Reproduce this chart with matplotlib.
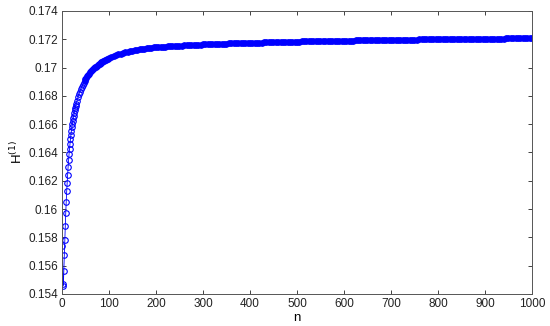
import numpy as np
import matplotlib
matplotlib.use('Agg')
from matplotlib import pyplot as plt

plt.rcParams['font.family'] = ['Liberation Sans', 'DejaVu Sans']

# steep part: every n up to 30, then every 2 up to 100
n_steep = np.concatenate([np.arange(1, 31), np.arange(32, 101, 2)])
# flat part: every 5 from 105 to 1000
n_flat = np.arange(105, 1001, 5)

h_early = [0.15740, 0.15457, 0.15469, 0.15565, 0.15676, 0.15782, 0.15881, 0.15975,
           0.16052, 0.16126, 0.16187, 0.16243, 0.16298, 0.16345, 0.16387, 0.16425,
           0.16462, 0.16495, 0.16526, 0.16553, 0.16578, 0.16600, 0.16622, 0.16642,
           0.16661, 0.16680, 0.16697, 0.16713, 0.16728, 0.16742]
h_100 = [0.16767, 0.16790, 0.16811, 0.16830, 0.16847, 0.16863, 0.16878, 0.16892,
         0.16905, 0.16917, 0.16928, 0.16939, 0.16949, 0.16958, 0.16966, 0.16974,
         0.16982, 0.16989, 0.16995, 0.17001, 0.17007, 0.17013, 0.17018, 0.17023,
         0.17028, 0.17033, 0.17037, 0.17041, 0.17045, 0.17049, 0.17053, 0.17056,
         0.17060, 0.17063, 0.17066]
h_200 = [0.17074, 0.17081, 0.17087, 0.17093, 0.17098, 0.17103, 0.17107, 0.17111,
         0.17115, 0.17119, 0.17122, 0.17125, 0.17128, 0.17131, 0.17134, 0.17136,
         0.17138, 0.17140, 0.17142, 0.17144]
h_250 = [0.17146, 0.17147, 0.17148, 0.17149, 0.17150, 0.17151, 0.17152, 0.17153,
         0.17154, 0.17155]
h_350 = [0.17156, 0.17157, 0.17158, 0.17159, 0.17160, 0.17161, 0.17161, 0.17162,
         0.17163, 0.17164, 0.17164, 0.17165, 0.17166, 0.17166, 0.17167, 0.17168,
         0.17168, 0.17169, 0.17169, 0.17170]
h_500 = [0.17171, 0.17171, 0.17172, 0.17172, 0.17173, 0.17173, 0.17174, 0.17174,
         0.17175, 0.17175, 0.17176, 0.17176, 0.17177, 0.17177, 0.17177, 0.17178,
         0.17178, 0.17179, 0.17179, 0.17180, 0.17180, 0.17180, 0.17181, 0.17181,
         0.17182, 0.17182, 0.17182, 0.17183, 0.17183, 0.17184]
h_600 = [0.17184, 0.17185, 0.17185, 0.17185, 0.17186, 0.17186, 0.17186, 0.17187,
         0.17187, 0.17187, 0.17187, 0.17188, 0.17188, 0.17188, 0.17189, 0.17189,
         0.17189, 0.17189, 0.17190, 0.17190]
h_700 = [0.17190, 0.17191, 0.17191, 0.17191, 0.17192, 0.17192, 0.17192, 0.17193,
         0.17193, 0.17193, 0.17193, 0.17194, 0.17194, 0.17194, 0.17195, 0.17195,
         0.17195, 0.17195, 0.17196, 0.17196]
h_800 = [0.17196, 0.17196, 0.17197, 0.17197, 0.17197, 0.17197, 0.17198, 0.17198,
         0.17198, 0.17198, 0.17198, 0.17199, 0.17199, 0.17199, 0.17199, 0.17199,
         0.17200, 0.17200, 0.17200, 0.17200]
h_900 = [0.17200, 0.17201, 0.17201, 0.17201, 0.17201, 0.17201, 0.17202, 0.17202,
         0.17202, 0.17202, 0.17202, 0.17203, 0.17203, 0.17203, 0.17203, 0.17203,
         0.17204, 0.17204, 0.17204, 0.17204]
h_1000 = [0.17204, 0.17204, 0.17205, 0.17205, 0.17205, 0.17205, 0.17205, 0.17205,
          0.17206, 0.17206, 0.17206, 0.17206, 0.17206, 0.17206, 0.17207, 0.17207,
          0.17207, 0.17207, 0.17207, 0.17207]

n_all = np.concatenate([n_steep, n_flat])
h_all = np.array(h_early + h_100 + h_200 + h_250 + h_350 + h_500 + h_600
                 + h_700 + h_800 + h_900 + h_1000)

xticks = list(range(0, 1001, 100))
yticks = [0.154, 0.156, 0.158, 0.16, 0.162, 0.164, 0.166, 0.168, 0.17, 0.172, 0.174]
ytick_labels = ['0.154', '0.156', '0.158', '0.16', '0.162', '0.164', '0.166',
                '0.168', '0.17', '0.172', '0.174']

fig = plt.figure(figsize=(5.5, 3.26), dpi=100)
ax = fig.add_axes([0.1127, 0.0982, 0.8545, 0.8681])

ms = 4.0
open_part = n_all <= 46
ax.plot(n_all, h_all, color='blue', linewidth=0.6)
ax.plot(n_all[open_part], h_all[open_part], linestyle='none', marker='o', markersize=ms,
        markerfacecolor='none', markeredgecolor='blue', markeredgewidth=0.8, snap=False)
# past n~46 the open circles overlap so densely that the band reads as solid
ax.plot(n_all[~open_part], h_all[~open_part], linestyle='none', marker='o', markersize=ms,
        markerfacecolor='blue', markeredgecolor='blue', markeredgewidth=0.8, snap=False)

ax.set_xlim(0, 1000)
ax.set_ylim(0.154, 0.174)
ax.set_xticks(xticks)
ax.set_yticks(yticks)
ax.set_yticklabels(ytick_labels)
ax.tick_params(direction='in', top=True, right=True, labelsize=8.5,
               length=3, width=0.6, colors='#222222', pad=3)
for s in ax.spines.values():
    s.set_linewidth(0.7)
    s.set_color('#555555')

ax.set_xlabel('n', fontsize=9.5, labelpad=1)
ax.set_ylabel('H$^{(1)}$', fontsize=9.5, labelpad=2)

fig.savefig('out.png', dpi=100)
